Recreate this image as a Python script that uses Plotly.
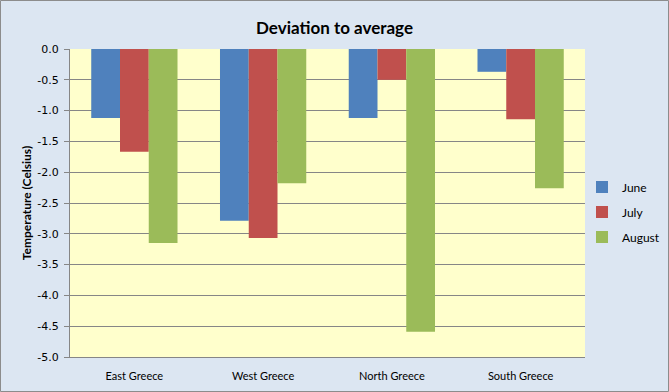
import plotly.graph_objects as go

regions = ["East Greece", "West Greece", "North Greece", "South Greece"]
june = [-1.12, -2.79, -1.12, -0.37]
july = [-1.67, -3.07, -0.50, -1.14]
august = [-3.15, -2.18, -4.59, -2.26]
series = [("June", june, "#4F81BD"), ("July", july, "#C0504D"), ("August", august, "#9BBB59")]
y_ticks = [0, -0.5, -1, -1.5, -2, -2.5, -3, -3.5, -4, -4.5, -5]

W, H = 669, 392
ml, mr, mt, mb = 70, 84, 49, 35
pw, ph = W - ml - mr, H - mt - mb

fig = go.Figure()
for name, vals, col in series:
    fig.add_trace(go.Bar(x=regions, y=vals, name=name, legendgroup=name,
                         marker=dict(color=col, line=dict(width=0))))

fig.update_layout(
    width=W, height=H,
    margin=dict(l=ml, r=mr, t=mt, b=mb, autoexpand=False),
    paper_bgcolor="#DCE6F2",
    plot_bgcolor="#FFFFCC",
    barmode="group", bargap=0.33, bargroupgap=0,
    title=dict(text="<b>Deviation to average</b>", x=0.5, xanchor="center", y=1 - 28 / H, yanchor="middle",
               font=dict(family="Lato, Open Sans, sans-serif", size=17, color="#000000")),
    showlegend=True,
    legend=dict(x=(582 - ml) / pw, xanchor="left", y=(357 - 212) / ph, yanchor="middle",
                font=dict(family="Lato, Open Sans, sans-serif", size=12, color="#000"),
                bgcolor="rgba(0,0,0,0)", tracegroupgap=6, itemwidth=30, traceorder="grouped"),
    xaxis=dict(showline=True, linecolor="#868686", linewidth=1, ticks="", showgrid=False,
               ticklabelstandoff=9,
               tickfont=dict(family="Lato, Open Sans, sans-serif", size=11, color="#000")),
    yaxis=dict(range=[-5, 0], tickvals=y_ticks, ticktext=[f"{v:.1f}" for v in y_ticks],
               showline=True, linecolor="#868686", linewidth=1,
               gridcolor="#868686", gridwidth=1, ticks="outside", ticklen=5, tickcolor="#868686",
               zeroline=False, ticklabelstandoff=3,
               tickfont=dict(family="DejaVu Sans, Verdana, sans-serif", size=11, color="#000"),
               title=dict(text="<b>Temperature (Celsius)</b>", standoff=3,
                          font=dict(family="Lato, Open Sans, sans-serif", size=12, color="#000"))),
    shapes=[dict(type="rect", xref="paper", yref="paper",
                 x0=-ml / pw + 0.5 / pw, x1=1 + (mr - 0.5) / pw, y0=-(mb - 0.5) / ph, y1=1 + (mt - 0.5) / ph,
                 line=dict(color="#8c8c8c", width=1), fillcolor="rgba(0,0,0,0)", layer="above")],
)
fig.write_html("out.html", config={"displayModeBar": False})

with open("out.html", encoding="utf-8") as f:
    html = f.read()
html = html.replace("<body>", '<body style="margin:0;padding:0;overflow:hidden">', 1)
with open("out.html", "w", encoding="utf-8") as f:
    f.write(html)
